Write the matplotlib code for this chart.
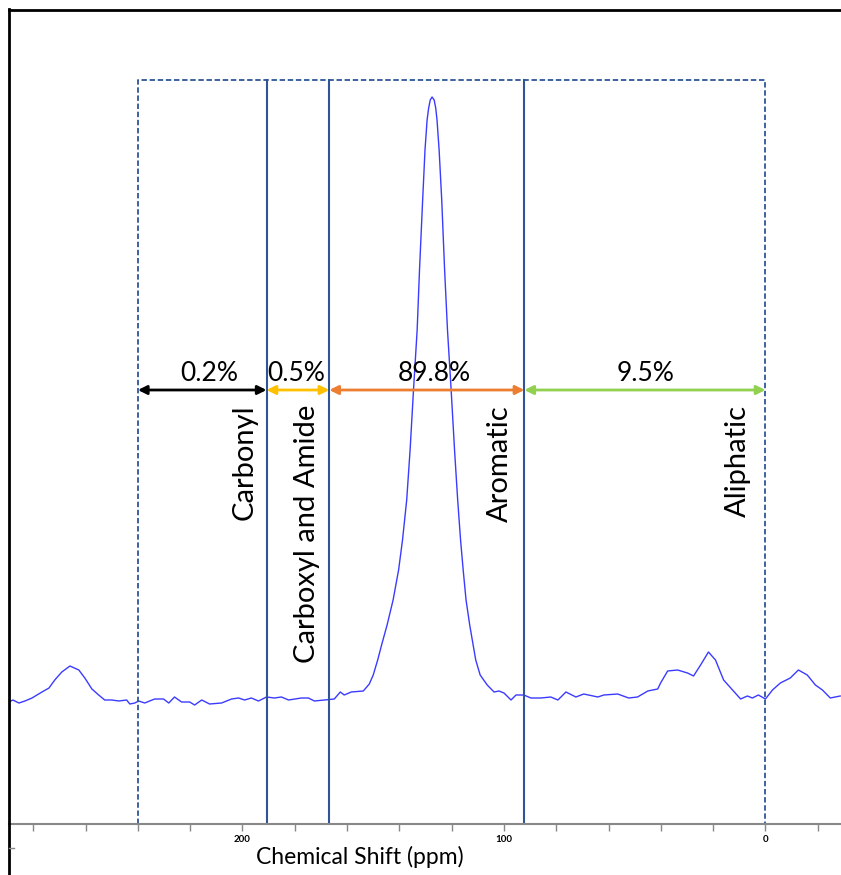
import numpy as np
import matplotlib
matplotlib.use('Agg')
import matplotlib.pyplot as plt
from matplotlib.lines import Line2D
from matplotlib.ticker import MultipleLocator, FuncFormatter

plt.rcParams['font.family'] = ['Lato', 'DejaVu Sans']

# spectrum (ppm, intensity)
shift = [289.3, 287.8, 285.5, 283.2, 280.5, 276.7, 274.0, 271.8, 269.1, 266.0,
         262.6, 260.3, 257.6, 255.0, 252.7, 250.0, 247.3, 244.3, 243.1, 241.2,
         239.7, 237.4, 233.6, 230.2, 228.2, 226.0, 223.3, 220.2, 218.3, 215.6,
         212.6, 208.0, 204.2, 201.5, 199.2, 196.6, 193.9, 190.8, 187.8, 185.1,
         182.4, 177.5, 174.8, 172.5, 168.7, 164.9, 162.6, 161.1, 158.4, 153.8,
         151.5, 150.0, 148.3, 146.8, 144.7, 142.4, 140.3, 138.8, 137.2, 135.9,
         134.6, 133.2, 132.3, 131.1, 130.2, 129.4, 128.8, 128.2, 127.5, 126.7,
         126.1, 125.6, 124.8, 123.8, 122.7, 121.6, 120.2, 118.9, 117.7, 116.6,
         115.6, 114.5, 113.1, 111.8, 110.8, 109.1, 106.4, 103.8, 101.9, 100.0,
         97.3, 95.4, 92.4, 89.7, 85.9, 82.1, 79.4, 78.2, 76.3, 72.5,
         69.5, 64.1, 61.8, 56.5, 52.3, 48.9, 45.0, 41.2, 40.1, 37.4,
         33.6, 29.8, 27.5, 24.8, 21.8, 19.1, 16.0, 12.6, 9.5, 6.9,
         5.0, 2.7, 0.0, -2.7, -5.7, -9.5, -12.6, -16.0, -19.1, -21.8,
         -24.8, -28.6]
intensity = [122, 124, 121, 123, 126, 132, 136, 144, 152, 158,
             154, 146, 135, 129, 124, 124, 123, 124, 120, 121,
             123, 121, 125, 125, 121, 127, 122, 122, 119, 124,
             120, 121, 125, 126, 124, 126, 123, 127, 126, 127,
             124, 126, 126, 123, 124, 125, 132, 129, 132, 133,
             140, 149, 164, 179, 199, 224, 254, 284, 324, 374,
             434, 494, 554, 624, 674, 704, 716, 724, 727, 724,
             716, 704, 674, 624, 554, 494, 434, 374, 324, 284,
             254, 224, 199, 179, 164, 149, 139, 132, 133, 131,
             124, 129, 129, 126, 126, 127, 124, 127, 132, 127,
             130, 127, 129, 130, 126, 127, 133, 135, 141, 153,
             154, 151, 148, 159, 172, 164, 144, 134, 125, 128,
             126, 129, 125, 134, 141, 146, 154, 149, 139, 134,
             126, 128]

# region boundaries (ppm) and integrated fractions
bounds = [240, 190.8, 166.8, 92.2, 0]
percents = ['0.2%', '0.5%', '89.8%', '9.5%']
percent_x = [212.7, 179.5, 126.7, 46.0]
regions = ['Carbonyl', 'Carboxyl and Amide', 'Aromatic', 'Aliphatic']
region_x = [199.0, 175.3, 101.5, 10.4]
arrow_colors = ['black', '#ffc000', '#ed7d31', '#92d050']

fig = plt.figure(figsize=(8.41, 8.75), dpi=100)
ax = fig.add_axes([9 / 841, 1 - 824 / 875, 1 - 9 / 841, (824 - 10) / 875])
ax.set_xlim(289.3, -28.9)
ax.set_ylim(0, 814)

ax.plot(shift, intensity, color='#3b3bff', lw=1.0)

box_color = '#2f5597'
top = 744
ax.plot([bounds[0], bounds[0], bounds[-1], bounds[-1]], [0, top, top, 0],
        ls=(0, (3, 1.5)), color=box_color, lw=1.3, clip_on=False)
for b in bounds[1:-1]:
    ax.plot([b, b], [0, top], color=box_color, lw=1.5)

arrow_y = 434
for i in range(4):
    x1, x2 = bounds[i], bounds[i + 1]
    ax.annotate('', xy=(x2, arrow_y), xytext=(x1, arrow_y),
                arrowprops=dict(arrowstyle='<|-|>', color=arrow_colors[i], lw=2,
                                shrinkA=0, shrinkB=0, mutation_scale=13))
    ax.text(percent_x[i], arrow_y + 4, percents[i], ha='center', va='bottom',
            fontsize=19)

for name, lx in zip(regions, region_x):
    ax.text(lx, 419, name, rotation=90, ha='center', va='top', fontsize=21)

ax.xaxis.set_major_locator(MultipleLocator(20))
ax.xaxis.set_major_formatter(FuncFormatter(lambda v, p: f'{int(round(v))}' if round(v) % 100 == 0 else ''))
ax.tick_params(axis='x', direction='out', length=5, width=1, color='#888888',
               labelsize=7, pad=3)
for lab in ax.get_xticklabels():
    lab.set_fontweight('bold')
ax.set_yticks([])
fig.text(360 / 841, 1 - 857 / 875, 'Chemical Shift (ppm)', ha='center', va='center',
         fontsize=16.5)

ax.spines['right'].set_visible(False)
ax.spines['bottom'].set_color('#888888')
ax.spines['bottom'].set_linewidth(1.5)
ax.spines['left'].set_visible(False)
ax.spines['top'].set_linewidth(2)
ax.spines['top'].set_color('black')

# frame line on the left runs down past the axis
fig.add_artist(Line2D([9 / 841, 9 / 841], [0, 1 - 9 / 875], color='black', lw=2))
fig.add_artist(Line2D([9 / 841, 14 / 841], [1 - 848 / 875, 1 - 848 / 875], color='#888888', lw=1))

fig.savefig('out.png', dpi=100, facecolor='white')
